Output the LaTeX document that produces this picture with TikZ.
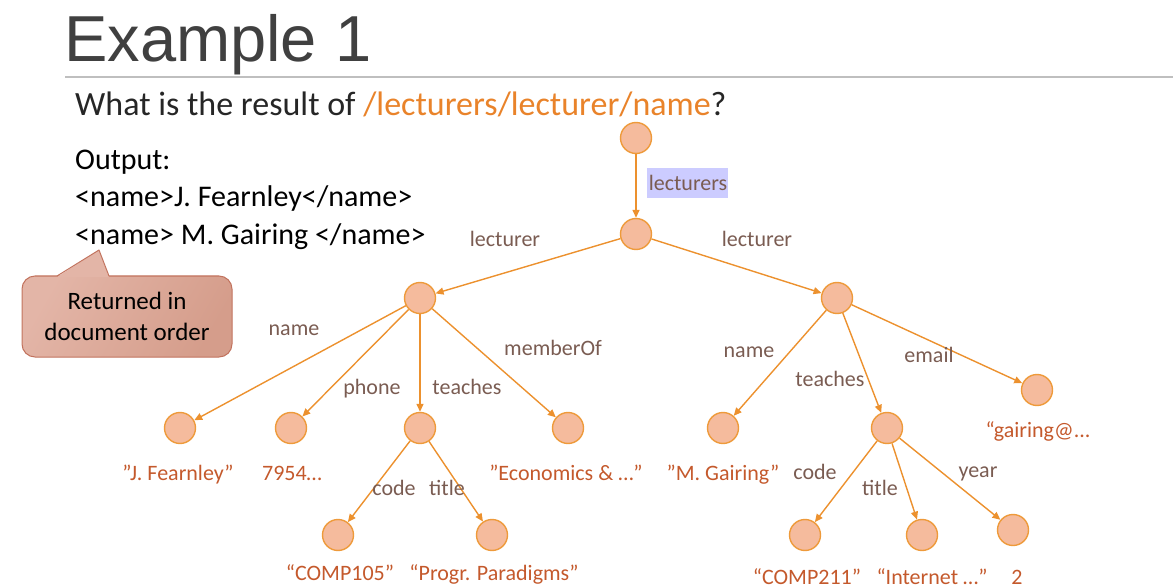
\documentclass[tikz,border=0pt]{standalone}
\usepackage{fontspec}
\setmainfont{Carlito}
\newfontfamily\titlefont{Liberation Sans}
\usetikzlibrary{arrows.meta}

\definecolor{titlegray}{HTML}{404040}
\definecolor{rulegray}{HTML}{BFBFBF}
\definecolor{darktext}{HTML}{262626}
\definecolor{pathorange}{HTML}{E9832A}
\definecolor{nodefill}{HTML}{F5BB9D}
\definecolor{nodeborder}{HTML}{EE9A3A}
\definecolor{edgecol}{HTML}{EC912E}
\definecolor{labelcol}{HTML}{7A5C52}
\definecolor{valuecol}{HTML}{C4592C}
\definecolor{calloutlight}{HTML}{E3B5A7}
\definecolor{calloutdark}{HTML}{D59D8B}
\definecolor{calloutborder}{HTML}{C2735E}
\definecolor{hilite}{HTML}{CCCCFF}

\begin{document}
\begin{tikzpicture}[x=1pt,y=-1pt,
  treenode/.style={circle, draw=nodeborder, line width=1.4pt, fill=nodefill,
                   minimum size=31pt, inner sep=0pt},
  edge/.style={draw=edgecol, line width=1.4pt, -{Triangle[length=8pt,width=7pt]}},
  elabel/.style={text=labelcol, font=\fontsize{22}{26}\selectfont, inner sep=0pt, anchor=base},
  vlabel/.style={text=valuecol, font=\fontsize{22}{26}\selectfont, inner sep=0pt, anchor=base},
  bodytext/.style={text=black, font=\fontsize{30}{36}\selectfont, inner sep=0pt, anchor=base west},
]
\useasboundingbox (0,0) rectangle (1173,588);

% heading and rule
\node[anchor=base west, inner sep=0pt, text=titlegray, font=\titlefont\fontsize{65}{70}\selectfont]
  (title) at (64,62) {Example 1};
\draw[rulegray, line width=1.2pt] (65,77) -- (1173,77);

% question and answer
\node[bodytext, text=darktext, font=\fontsize{34}{40}\selectfont] (question) at (75,116)
  {What is the result of \textcolor{pathorange}{/lecturers/lecturer/name}?};
\node[bodytext] (out0) at (75,170) {Output:};
\node[bodytext] (out1) at (75,207) {<name>J. Fearnley</name>};
\node[bodytext] (out2) at (75,244) {<name> M. Gairing </name>};

% callout with its pointer
\shade[left color=calloutlight, right color=calloutdark, shading angle=60, rounded corners=13pt]
  (22,276) rectangle (232,357);
\draw[draw=calloutborder, line width=1pt, rounded corners=13pt]
  (22,276) rectangle (232,357);
\fill[calloutlight] (57,277) -- (99,250) -- (109,277) -- cycle;
\draw[calloutborder, line width=1pt, line join=round] (57,276) -- (99,250) -- (109,276);
\node[align=center, inner sep=0pt, font=\fontsize{25}{31}\selectfont, anchor=base]
  (note) at (127,340) {Returned in\\document order};

% tree nodes
\node[treenode] (root) at (636,138) {};
\node[treenode] (lecs) at (636,234) {};
\node[treenode] (lecA) at (420,298) {};
\node[treenode] (lecB) at (837,298) {};
\node[treenode] (nameA) at (180,428) {};
\node[treenode] (phoneA) at (291,428) {};
\node[treenode] (teachA) at (420,428) {};
\node[treenode] (memA) at (568,428) {};
\node[treenode] (codeA) at (338,535) {};
\node[treenode] (titleA) at (492,535) {};
\node[treenode] (nameB) at (723,428) {};
\node[treenode] (teachB) at (887,428) {};
\node[treenode] (mailB) at (1037,390) {};
\node[treenode] (codeB) at (805,535) {};
\node[treenode] (titleB) at (922,535) {};
\node[treenode] (yearB) at (1013,530) {};

% connectors
\draw[edge] (root) -- (lecs);
\draw[edge] (lecs) -- (lecA);
\draw[edge] (lecs) -- (lecB);
\draw[edge] (lecA) -- (nameA);
\draw[edge] (lecA) -- (phoneA);
\draw[edge] (lecA) -- (teachA);
\draw[edge] (lecA) -- (memA);
\draw[edge] (teachA) -- (codeA);
\draw[edge] (teachA) -- (titleA);
\draw[edge] (lecB) -- (nameB);
\draw[edge] (lecB) -- (teachB);
\draw[edge] (lecB) -- (mailB);
\draw[edge] (teachB) -- (codeB);
\draw[edge] (teachB) -- (titleB);
\draw[edge] (teachB) -- (yearB);

% element labels
\fill[hilite] (647,168) rectangle (728,198);
\node[elabel] (lblLecs) at (688,191) {lecturers};
\node[elabel] (lblLecA) at (505,247) {lecturer};
\node[elabel] (lblLecB) at (757,247) {lecturer};
\node[elabel] (lblNameA) at (294,335) {name};
\node[elabel] (lblPhoneA) at (372,394) {phone};
\node[elabel] (lblTeachA) at (467,394) {teaches};
\node[elabel] (lblMemA) at (553,355) {memberOf};
\node[elabel] (lblCodeA) at (394,495) {code};
\node[elabel] (lblTitleA) at (447,495) {title};
\node[elabel] (lblNameB) at (749,357) {name};
\node[elabel] (lblTeachB) at (830,386) {teaches};
\node[elabel] (lblMailB) at (929,362) {email};
\node[elabel] (lblCodeB) at (815,479) {code};
\node[elabel] (lblTitleB) at (880,495) {title};
\node[elabel] (lblYearB) at (978,477) {year};

% text values
\node[vlabel] (valNameA) at (178,480) {”J. Fearnley”};
\node[vlabel] (valPhoneA) at (292,480) {7954…};
\node[vlabel] (valMemA) at (566,480) {”Economics \& …”};
\node[vlabel] (valCodeA) at (340,580) {“COMP105”};
\node[vlabel] (valTitleA) at (494,580) {“Progr. Paradigms”};
\node[vlabel] (valNameB) at (723,480) {”M. Gairing”};
\node[vlabel] (valMailB) at (1038,437) {“gairing@...};
\node[vlabel] (valCodeB) at (807,584) {“COMP211”};
\node[vlabel] (valTitleB) at (932,584) {“Internet …”};
\node[vlabel] (valYearB) at (1017,584) {2};
\end{tikzpicture}
\end{document}
